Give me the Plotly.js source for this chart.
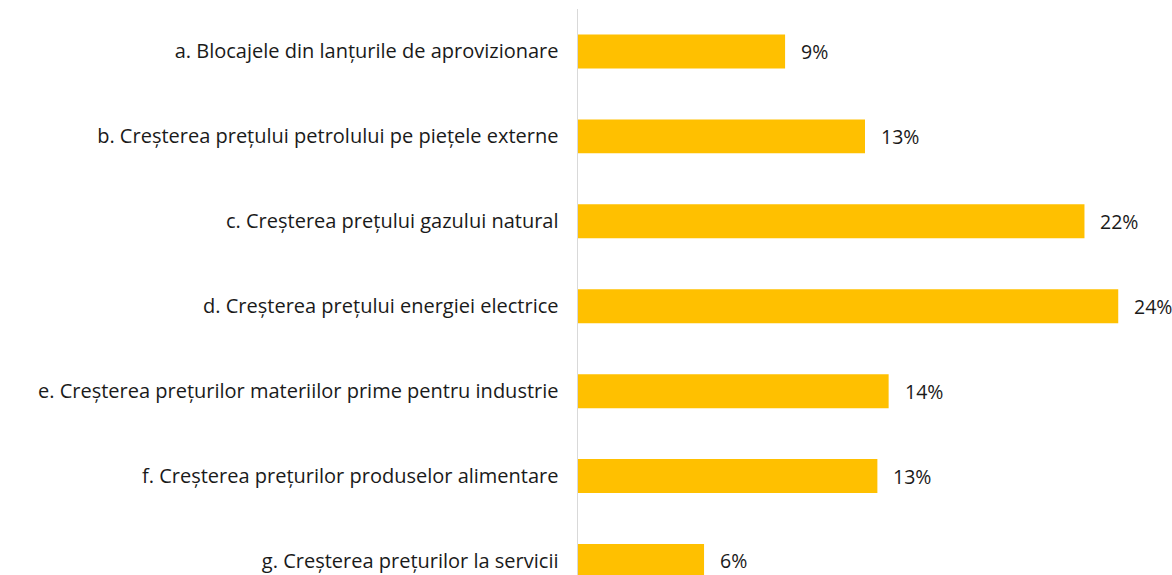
<!DOCTYPE html>
<html>
<head>
<meta charset="utf-8">
<script src="https://cdn.plot.ly/plotly-3.0.1.min.js"></script>
<style>html,body{margin:0;padding:0;background:#fff;}#chart{width:1172px;height:575px;}</style>
</head>
<body>
<div id="chart"></div>
<script>
const categories = [
  "a. Blocajele din lanțurile de aprovizionare",
  "b. Creșterea prețului petrolului pe piețele externe",
  "c. Creșterea prețului gazului natural",
  "d. Creșterea prețului energiei electrice",
  "e. Creșterea prețurilor materiilor prime pentru industrie",
  "f. Creșterea prețurilor produselor alimentare",
  "g. Creșterea prețurilor la servicii"
];
const values = [9.2, 12.75, 22.5, 24.0, 13.8, 13.3, 5.6];
const labels = ["9%", "13%", "22%", "24%", "14%", "13%", "6%"];

const font = "'Open Sans', 'Noto Sans', sans-serif";

const trace = {
  type: "bar",
  orientation: "h",
  x: values,
  y: categories,
  marker: {color: "#FFC000"},
  hoverinfo: "none"
};

const annotations = categories.map((c, i) => ({
  x: values[i], y: c, xref: "x", yref: "y",
  text: labels[i], showarrow: false,
  xanchor: "left", xshift: 14,
  font: {family: font, size: 19.5, color: "#1a1a1a"}
}));

const layout = {
  width: 1172, height: 575,
  margin: {l: 578, r: 20, t: 9, b: 0},
  paper_bgcolor: "#fff", plot_bgcolor: "#fff",
  showlegend: false,
  bargap: 0.6,
  xaxis: {range: [0, 25.5], showgrid: false, zeroline: false, showticklabels: false, showline: false, fixedrange: true},
  yaxis: {
    type: "category",
    range: [6.165, -0.5],
    showgrid: false, zeroline: false,
    showline: true, linecolor: "#d9d9d9", linewidth: 1.5,
    ticks: "outside", ticklen: 14, tickcolor: "rgba(0,0,0,0)",
    tickfont: {family: font, size: 20, color: "#1a1a1a"},
    fixedrange: true
  },
  annotations: annotations
};

Plotly.newPlot("chart", [trace], layout, {displayModeBar: false, staticPlot: true});
</script>
</body>
</html>
